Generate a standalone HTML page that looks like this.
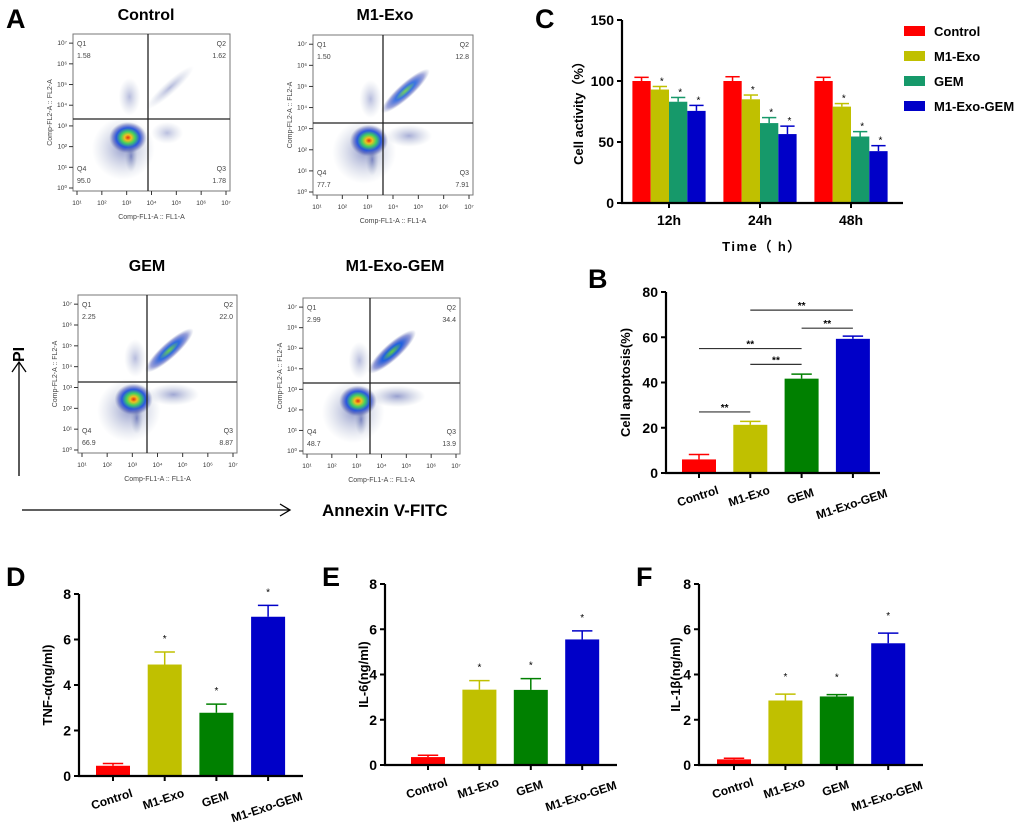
<!DOCTYPE html>
<html><head><meta charset="utf-8"><style>
html,body{margin:0;padding:0;background:#fff;}
svg{display:block;font-family:"Liberation Sans",Arial,sans-serif;}
</style></head><body>
<svg id="fig" width="1020" height="826" viewBox="0 0 1020 826" xmlns="http://www.w3.org/2000/svg">
<defs>
<radialGradient id="dens" cx="50%" cy="50%" r="50%">
<stop offset="0%" stop-color="#e03010"/>
<stop offset="18%" stop-color="#f0c020"/>
<stop offset="38%" stop-color="#40d060"/>
<stop offset="62%" stop-color="#2050e0" stop-opacity="0.95"/>
<stop offset="82%" stop-color="#3040b0" stop-opacity="0.45"/>
<stop offset="100%" stop-color="#6070a0" stop-opacity="0"/>
</radialGradient>
<radialGradient id="dens2" cx="50%" cy="50%" r="50%">
<stop offset="0%" stop-color="#60d040"/>
<stop offset="40%" stop-color="#2060e0"/>
<stop offset="75%" stop-color="#2838b0" stop-opacity="0.5"/>
<stop offset="100%" stop-color="#6070a0" stop-opacity="0"/>
</radialGradient>
<radialGradient id="halo" cx="50%" cy="50%" r="50%">
<stop offset="0%" stop-color="#3040a0" stop-opacity="0.5"/>
<stop offset="100%" stop-color="#8090b0" stop-opacity="0"/>
</radialGradient>
</defs>
<g font-weight="bold" font-size="27" fill="#000">
<text x="6" y="28">A</text>
<text x="535" y="28">C</text>
<text x="588" y="288">B</text>
<text x="6" y="586">D</text>
<text x="322" y="586">E</text>
<text x="636" y="586">F</text>
</g>
<g id="flows"></g>
<g stroke="#000" stroke-width="1.3" fill="none">
<line x1="19" y1="476" x2="19" y2="362"/>
<polyline points="12,372 19,362 26,372"/>
<line x1="22" y1="510" x2="290" y2="510"/>
<polyline points="280,504 290,510 280,516"/>
</g>
<text x="0" y="0" transform="translate(24,362) rotate(-90)" font-size="16" font-weight="bold">PI</text>
<text x="322" y="516" font-size="17" font-weight="bold">Annexin V-FITC</text>
<g id="chartC"></g>
<g id="chartB"></g>
<g id="chartD"></g>
<g id="chartE"></g>
<g id="chartF"></g>
</svg>
<script>
// ---------- data ----------
const groups = ["Control","M1-Exo","GEM","M1-Exo-GEM"];
const timeCats = ["12h","24h","48h"];
const actControl = [100,100,100];
const actM1Exo = [93,85,79];
const actGEM = [83,65.5,54.5];
const actM1ExoGEM = [75.5,56.5,42.5];
const errControl = [3,3.5,3];
const errM1Exo = [2.5,3.5,2.5];
const errGEM = [3.5,4.5,4];
const errM1ExoGEM = [4.5,6.5,4.5];
const actTicks = [0,50,100,150];
const apopVals = [6,21.3,41.7,59.3];
const apopErr = [2.2,1.5,2,1.2];
const apopTicks = [0,20,40,60,80];
const sigPairs = [[0,1],[1,2],[0,2],[2,3],[1,3]];
const sigLevels = [27,48,55,64,72];
const tnfVals = [0.45,4.9,2.78,7.0];
const tnfErr = [0.1,0.55,0.38,0.5];
const il6Vals = [0.35,3.33,3.32,5.55];
const il6Err = [0.08,0.4,0.5,0.38];
const il1bVals = [0.25,2.85,3.03,5.38];
const il1bErr = [0.05,0.28,0.08,0.45];
const cytTicks = [0,2,4,6,8];
const flowNames = ["Control","M1-Exo","GEM","M1-Exo-GEM"];
const flowQ1 = ["1.58","1.50","2.25","2.99"];
const flowQ2 = ["1.62","12.8","22.0","34.4"];
const flowQ3 = ["1.78","7.91","8.87","13.9"];
const flowQ4 = ["95.0","77.7","66.9","48.7"];
const flowQ2Strength = [0.35,0.7,0.85,1.0];

const NS="http://www.w3.org/2000/svg";
function mk(parent,tag,attrs,text){const e=document.createElementNS(NS,tag);for(const k in attrs)e.setAttribute(k,attrs[k]);if(text!==undefined)e.textContent=text;parent.appendChild(e);return e;}

// ---------- flow plots ----------
const flowBoxes=[{x:73,y:34,w:157,h:157,cx:148,cy:119,tx:146,ty:20},
{x:313,y:35,w:160,h:160,cx:383,cy:123,tx:385,ty:20},
{x:78,y:295,w:159,h:158,cx:147,cy:382,tx:147,ty:271},
{x:303,y:298,w:157,h:156,cx:370,cy:383,tx:395,ty:271}];
const supers=['¹','²','³','⁴','⁵','⁶','⁷'];
const supersY=['⁰','¹','²','³','⁴','⁵','⁶','⁷'];
const flows=document.getElementById('flows');
flowBoxes.forEach((b,i)=>{
 const g=mk(flows,'g',{});
 
 
 const t=mk(g,'text',{x:b.tx,y:b.ty,'text-anchor':'middle','font-size':16,'font-weight':'bold'},flowNames[i]);
 
 
 mk(g,'rect',{x:b.x,y:b.y,width:b.w,height:b.h,fill:'#fff',stroke:'#777','stroke-width':1});
 const s=flowQ2Strength[i];
 mk(g,'ellipse',{cx:b.x+b.w*0.32,cy:b.y+b.h*0.73,rx:b.w*0.2,ry:b.h*0.2,fill:'url(#halo)'});
 mk(g,'ellipse',{cx:b.x+b.w*0.36,cy:b.y+b.h*0.4,rx:b.w*0.07,ry:b.h*0.12,fill:'url(#halo)',opacity:0.7});
 mk(g,'ellipse',{cx:b.x+b.w*0.6,cy:b.y+b.h*0.63,rx:b.w*0.12*(0.5+s),ry:b.h*0.07,fill:'url(#halo)',opacity:0.5+0.5*s});
 const dx=b.cx+b.w*0.14, dy=b.cy-b.h*0.2;
 mk(g,'ellipse',{cx:dx,cy:dy,rx:b.w*0.2,ry:b.h*0.035+3*s,transform:`rotate(-42 ${dx} ${dy})`,fill:s>0.5?'url(#dens2)':'url(#halo)',opacity:0.6+0.4*s});
 mk(g,'ellipse',{cx:b.x+b.w*0.35,cy:b.y+b.h*0.66,rx:b.w*0.12,ry:b.h*0.1,fill:'url(#dens)'});
 mk(g,'ellipse',{cx:b.x+b.w*0.37,cy:b.y+b.h*0.78,rx:b.w*0.04,ry:b.h*0.1,fill:'url(#halo)'});
 mk(g,'line',{x1:b.cx,y1:b.y,x2:b.cx,y2:b.y+b.h,stroke:'#222','stroke-width':1.3});
 mk(g,'line',{x1:b.x,y1:b.cy,x2:b.x+b.w,y2:b.cy,stroke:'#222','stroke-width':1.3});
 const fs={'font-size':7,fill:'#444'};
 mk(g,'text',Object.assign({x:b.x+4,y:b.y+12},fs),'Q1');
 mk(g,'text',Object.assign({x:b.x+4,y:b.y+24},fs),flowQ1[i]);
 mk(g,'text',Object.assign({x:b.x+b.w-4,y:b.y+12,'text-anchor':'end'},fs),'Q2');
 mk(g,'text',Object.assign({x:b.x+b.w-4,y:b.y+24,'text-anchor':'end'},fs),flowQ2[i]);
 mk(g,'text',Object.assign({x:b.x+4,y:b.y+b.h-20},fs),'Q4');
 mk(g,'text',Object.assign({x:b.x+4,y:b.y+b.h-8},fs),flowQ4[i]);
 mk(g,'text',Object.assign({x:b.x+b.w-4,y:b.y+b.h-20,'text-anchor':'end'},fs),'Q3');
 mk(g,'text',Object.assign({x:b.x+b.w-4,y:b.y+b.h-8,'text-anchor':'end'},fs),flowQ3[i]);
 for(let k=0;k<7;k++){
  const xx=b.x+4+k*(b.w-8)/6;
  mk(g,'line',{x1:xx,y1:b.y+b.h,x2:xx,y2:b.y+b.h+4,stroke:'#333'});
  mk(g,'text',{x:xx,y:b.y+b.h+14,'font-size':6.5,fill:'#333','text-anchor':'middle'},'10'+supers[k]);
 }
 for(let k=0;k<8;k++){
  const yy=b.y+b.h-3-k*(b.h-8)/7.2;
  mk(g,'line',{x1:b.x-4,y1:yy,x2:b.x,y2:yy,stroke:'#333'});
  mk(g,'text',{x:b.x-6,y:yy+2,'font-size':6.5,fill:'#333','text-anchor':'end'},'10'+supersY[k]);
 }
 mk(g,'text',{x:b.x+b.w/2,y:b.y+b.h+28,'font-size':7,fill:'#444','text-anchor':'middle'},'Comp-FL1-A :: FL1-A');
 mk(g,'text',{x:0,y:0,transform:`translate(${b.x-21},${b.y+b.h/2}) rotate(-90)`,'font-size':7,fill:'#444','text-anchor':'middle'},'Comp-FL2-A :: FL2-A');
});

// ---------- bar chart helper ----------
function axisY(cfg,v){return cfg.y0-(v/cfg.max)*(cfg.y0-cfg.yTop);}
function bars(id,cfg){
 const g=document.getElementById(id);
 const sy=v=>axisY(cfg,v);
 const bx=i=>cfg.first+i*cfg.step;
 cfg.vals.forEach((v,i)=>{
  const c=cfg.colors[i];
  const r=mk(g,'rect',{x:bx(i)-cfg.bw/2,y:sy(v),width:cfg.bw,height:cfg.y0-sy(v),fill:c});
  
  
  const top=sy(v+cfg.errs[i]);
  mk(g,'line',{x1:bx(i),y1:sy(v),x2:bx(i),y2:top,stroke:c,'stroke-width':1.5});
  mk(g,'line',{x1:bx(i)-cfg.bw*0.3,y1:top,x2:bx(i)+cfg.bw*0.3,y2:top,stroke:c,'stroke-width':1.5});
  if(cfg.stars&&i>0) mk(g,'text',{x:bx(i),y:top-(cfg.starGap||8),'font-size':10,'text-anchor':'middle'},'*');
  mk(g,'line',{x1:bx(i),y1:cfg.y0,x2:bx(i),y2:cfg.y0+5,stroke:'#000','stroke-width':2});
  const lab=mk(g,'text',{x:0,y:0,transform:`translate(${bx(i)},${cfg.y0+27+(i===3?8:0)}) rotate(-18)`,'text-anchor':'middle','font-size':12,'font-weight':'bold'},groups[i]);
  
  
 });
 mk(g,'line',{x1:cfg.ax,y1:cfg.yTop,x2:cfg.ax,y2:cfg.y0+1,stroke:'#000','stroke-width':2.2});
 mk(g,'line',{x1:cfg.ax-1,y1:cfg.y0,x2:cfg.xEnd,y2:cfg.y0,stroke:'#000','stroke-width':2.2});
 cfg.ticks.forEach(t=>{
  mk(g,'line',{x1:cfg.ax-5,y1:sy(t),x2:cfg.ax,y2:sy(t),stroke:'#000','stroke-width':2});
  mk(g,'text',{x:cfg.ax-8,y:sy(t)+5,'text-anchor':'end','font-size':14,'font-weight':'bold'},t);
 });
 const yt=mk(g,'text',{x:0,y:0,transform:`translate(${cfg.titleX},${(cfg.yTop+cfg.y0)/2}) rotate(-90)`,'text-anchor':'middle','font-size':13,'font-weight':'bold'},cfg.title);
 
 
 return {g,sy,bx};
}
const colsDB=['#ff0000','#c0c000','#008000','#0000c8'];
bars('chartD',{vals:tnfVals,errs:tnfErr,colors:colsDB,max:8,ticks:cytTicks,y0:776,yTop:594,ax:79,xEnd:303,first:113,step:51.7,bw:34,stars:true,starGap:10,title:'TNF-α(ng/ml)',titleX:52});
bars('chartE',{vals:il6Vals,errs:il6Err,colors:colsDB,max:8,ticks:cytTicks,y0:765,yTop:584,ax:385,xEnd:617,first:428,step:51.4,bw:34,stars:true,starGap:10,title:'IL-6(ng/ml)',titleX:368});
bars('chartF',{vals:il1bVals,errs:il1bErr,colors:colsDB,max:8,ticks:cytTicks,y0:765,yTop:584,ax:699,xEnd:923,first:734,step:51.4,bw:34,stars:true,starGap:14,title:'IL-1β(ng/ml)',titleX:680});
const B=bars('chartB',{vals:apopVals,errs:apopErr,colors:colsDB,max:80,ticks:apopTicks,y0:473,yTop:292,ax:666,xEnd:880,first:699,step:51.3,bw:34,stars:false,title:'Cell apoptosis(%)',titleX:630});
sigPairs.forEach((p,k)=>{
 const y=B.sy(sigLevels[k]);
 const l=mk(B.g,'line',{x1:B.bx(p[0]),y1:y,x2:B.bx(p[1]),y2:y,stroke:'#333','stroke-width':1.2});
 
 
 mk(B.g,'text',{x:(B.bx(p[0])+B.bx(p[1]))/2,y:y-1,'font-size':10,'text-anchor':'middle','font-weight':'bold'},'**');
});

// ---------- chart C ----------
(function(){
 const g=document.getElementById('chartC');
 const y0=203,yTop=20,max=150,ax=622,xEnd=903;
 const sy=v=>y0-(v/max)*(y0-yTop);
 const colsC=['#ff0000','#c0c000','#16996a','#0000c8'];
 const series=[actControl,actM1Exo,actGEM,actM1ExoGEM];
 const errs=[errControl,errM1Exo,errGEM,errM1ExoGEM];
 const gx=i=>669+i*91, bw=18.3;
 timeCats.forEach((c,i)=>{
  series.forEach((s,j)=>{
   const x=gx(i)-2*bw+j*bw;
   const r=mk(g,'rect',{x:x,y:sy(s[i]),width:bw,height:y0-sy(s[i]),fill:colsC[j]});
   
   
   const top=sy(s[i]+errs[j][i]);
   mk(g,'line',{x1:x+bw/2,y1:sy(s[i]),x2:x+bw/2,y2:top,stroke:colsC[j],'stroke-width':1.5});
   mk(g,'line',{x1:x+2,y1:top,x2:x+bw-2,y2:top,stroke:colsC[j],'stroke-width':1.5});
   if(j>0) mk(g,'text',{x:x+bw/2+2,y:top-2,'font-size':10,'text-anchor':'middle'},'*');
  });
  mk(g,'line',{x1:gx(i),y1:y0,x2:gx(i),y2:y0+5,stroke:'#000','stroke-width':2});
  mk(g,'text',{x:gx(i),y:y0+22,'text-anchor':'middle','font-size':14,'font-weight':'bold'},c);
 });
 mk(g,'line',{x1:ax,y1:yTop,x2:ax,y2:y0+1,stroke:'#000','stroke-width':2.2});
 mk(g,'line',{x1:ax-1,y1:y0,x2:xEnd,y2:y0,stroke:'#000','stroke-width':2.2});
 actTicks.forEach(t=>{
  mk(g,'line',{x1:ax-5,y1:sy(t),x2:ax,y2:sy(t),stroke:'#000','stroke-width':2});
  mk(g,'text',{x:ax-8,y:sy(t)+5,'text-anchor':'end','font-size':14,'font-weight':'bold'},t);
 });
 mk(g,'text',{x:0,y:0,transform:`translate(${583},${110}) rotate(-90)`,'text-anchor':'middle','font-size':13,'font-weight':'bold'},'Cell activity（%）');
 mk(g,'text',{x:762,y:251,'text-anchor':'middle','font-size':13,'font-weight':'bold','letter-spacing':'1.5'},'Time（ h）');
 groups.forEach((n,j)=>{
  const lg=mk(g,'g',{});
  
  
  mk(lg,'rect',{x:904,y:26+j*25,width:21,height:10,fill:colsC[j]});
  mk(lg,'text',{x:934,y:36+j*25,'font-size':13,'font-weight':'bold'},n);
 });
})();
</script>
</body></html>
